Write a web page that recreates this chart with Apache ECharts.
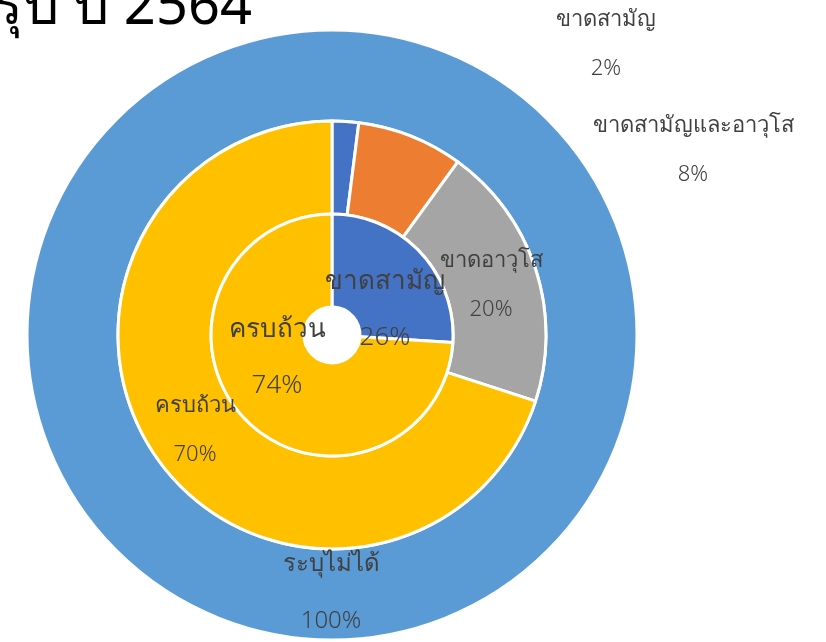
<!DOCTYPE html>
<html>
<head>
<meta charset="utf-8">
<script src="https://cdn.jsdelivr.net/npm/echarts@6/dist/echarts.min.js"></script>
<style>
  html, body { margin: 0; padding: 0; background: #fff; }
  #container { width: 826px; height: 642px; }
</style>
</head>
<body>
<div id="container"></div>
<script>
// ข้อมูล
var titleText = 'สรุป ปี 2564'
var innerNames = ['ขาดสามัญ', 'ครบถ้วน']
var innerValues = [26, 74]
var middleNames = ['ขาดสามัญ', 'ขาดสามัญและอาวุโส', 'ขาดอาวุโส', 'ครบถ้วน']
var middleValues = [2, 8, 20, 70]
var outerNames = ['ระบุไม่ได้']
var outerValues = [100]

var innerColors = ['#4472C4', '#FFC000']
var middleColors = ['#4472C4', '#ED7D31', '#A5A5A5', '#FFC000']
var outerColors = ['#5B9BD5']

// ตำแหน่งป้าย (เหมือนในไฟล์ excel ที่ลากป้ายไว้)
var innerLabelPos = [[385, 310], [277, 358]]
var middleLabelPos = [[606, 44], [693, 150], [491, 285], [195, 430]]
var outerLabelPos = [[331, 593]]

var font = "'Noto Sans', sans-serif"

function makeData(names, values, colors){
    return names.map(function(n, i){
        return { name: n, value: values[i], itemStyle: { color: colors[i] } }
    })
}

function layoutFn(pos){
    return function(params){
        var p = pos[params.dataIndex]
        return { x: p[0], y: p[1], align: 'center', verticalAlign: 'middle' }
    }
}

function ring(name, radius, data, pos, fontSize, lineHeight){
    return {
        name: name,
        type: 'pie',
        center: [332, 335],
        radius: radius,
        startAngle: 90,
        clockwise: true,
        silent: true,
        animation: false,
        data: data,
        itemStyle: { borderColor: '#fff', borderWidth: 3 },
        label: {
            show: true,
            position: 'inside',
            formatter: '{b}\n{d}%',
            color: '#404040',
            fontFamily: font,
            fontWeight: 300,
            fontSize: fontSize,
            lineHeight: lineHeight
        },
        labelLine: { show: false },
        labelLayout: layoutFn(pos)
    }
}

var dom = document.getElementById('container')
var myChart = echarts.init(dom, null, { renderer: 'canvas' })

var option = {
    backgroundColor: '#fff',
    title: {
        text: titleText,
        right: 574,
        top: -20,
        padding: 0,
        textStyle: { color: '#000', fontFamily: font, fontSize: 56, fontWeight: 'normal' }
    },
    series: [
        ring('outer', [214, 305], makeData(outerNames, outerValues, outerColors), outerLabelPos, 24, 57),
        ring('middle', [121, 214], makeData(middleNames, middleValues, middleColors), middleLabelPos, 22, 49),
        ring('inner', [28, 121], makeData(innerNames, innerValues, innerColors), innerLabelPos, 26, 56)
    ]
}

myChart.setOption(option)
window.addEventListener('resize', myChart.resize)
</script>
</body>
</html>
